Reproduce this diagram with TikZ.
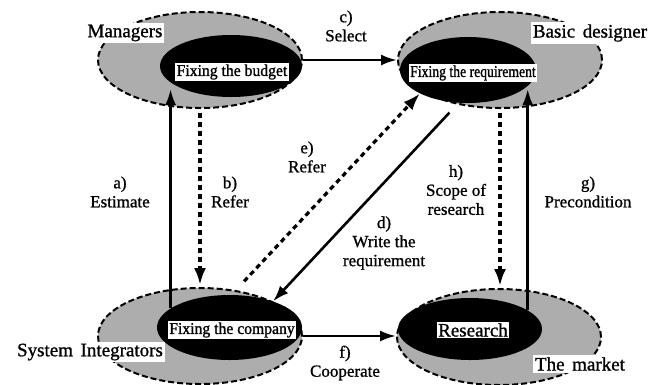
\documentclass[tikz,border=0pt]{standalone}
\usepackage{fontspec}
\setmainfont{Liberation Serif}[FakeBold=0.6]
\newfontfamily\inA[FakeStretch=0.95,FakeBold=1.2]{Liberation Serif}
\newfontfamily\inB[FakeStretch=0.83,FakeBold=1.2]{Liberation Serif}
\newfontfamily\lab[FakeBold=1.0]{Liberation Serif}
\usetikzlibrary{arrows.meta,shapes.geometric}
\begin{document}
\begin{tikzpicture}[x=1pt,y=-1pt,
  grayell/.style={ellipse, draw=black, fill=black!32, line width=2pt,
    dash pattern=on 6pt off 3pt, inner sep=0pt, minimum width=204pt, minimum height=96pt},
  blackell/.style={ellipse, fill=black, draw=none, inner sep=0pt},
  intext/.style={fill=white, inner sep=1.5pt, font=\inA\fontsize{16.5}{18}\selectfont},
  rolelabel/.style={fill=white, inner sep=2pt, font=\lab\fontsize{19}{21}\selectfont},
  arrlabel/.style={align=center, font=\lab\fontsize{17}{19}\selectfont, inner sep=0pt},
  solidarr/.style={line width=2.6pt, -{Latex[length=16pt,width=11pt]}},
  dasharr/.style={line width=3.2pt, dash pattern=on 5pt off 4pt, -{Latex[length=17pt,width=12pt]}},
]
\useasboundingbox (0,0) rectangle (655,384);

% ellipses
\node[grayell] (tlg) at (200,60) {};
\node[blackell, minimum width=142pt, minimum height=62pt] (tlb) at (231,66) {};
\node[grayell] (trg) at (500,60) {};
\node[blackell, minimum width=136pt, minimum height=66pt] (trb) at (468,70) {};
\node[grayell] (blg) at (200,336) {};
\node[blackell, minimum width=145pt, minimum height=65pt] (blb) at (229.5,327.5) {};
\node[grayell] (brg) at (499,337) {};
\node[blackell, minimum width=144pt, minimum height=62pt] (brb) at (470,329) {};

% texts inside
\node[intext] (tbud) at (232,72) {Fixing the budget};
\node[intext, font=\inB\fontsize{16.5}{18}\selectfont] (treq) at (473,73) {Fixing the requirement};
\node[intext] (tcom) at (232,330) {Fixing the company};
\node[intext, font=\lab\fontsize{19}{21}\selectfont] (tres) at (473,330) {Research};

% role labels
\node[rolelabel] (lman) at (125,33) {Managers};
\node[rolelabel] (ldes) at (590,33) {Basic\hspace{0.4em}designer};
\node[rolelabel] (lsys) at (90,352) {System\hspace{0.4em}Integrators};
\node[rolelabel] (lmar) at (580,364) {The\hspace{0.4em}market};

% connectors
\draw[solidarr, shorten >=6pt] (blb.162) -- (blb.162 |- tlb.196);
\draw[dasharr, shorten <=4pt, shorten >=2pt] (tlg.south) -- (blg.north);
\draw[solidarr] (tlg.east) -- (trg.west);
\draw[solidarr, shorten <=11pt] (trg.226) -- (blb.31);
\draw[dasharr, shorten <=12pt] (blg.52) -- (trb.206);
\draw[solidarr] (blg.east) -- (blg.east -| brg.west);
\draw[solidarr, shorten >=4pt] (brb.18) -- (brb.18 |- trb.346);
\draw[dasharr, shorten <=4pt, shorten >=2pt] (trg.south) -- (trg.south |- brg.north);

% connector labels
\node[arrlabel] (la) at (120,192) {a)\\Estimate};
\node[arrlabel] (lb) at (230,192) {b)\\Refer};
\node[arrlabel] (lc) at (346,26) {c)\\Select};
\node[arrlabel] (ld) at (384,243) {d)\\Write the\\requirement};
\node[arrlabel] (le) at (307,157) {e)\\Refer};
\node[arrlabel] (lf) at (345,363) {f)\\Cooperate};
\node[arrlabel] (lg) at (588,192) {g)\\Precondition};
\node[arrlabel] (lh) at (456,190) {h)\\Scope of\\research};
\end{tikzpicture}
\end{document}
